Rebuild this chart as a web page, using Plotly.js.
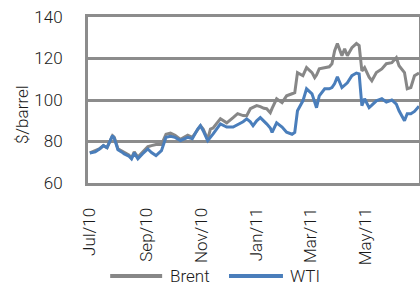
<!DOCTYPE html>
<html>
<head>
<meta charset="utf-8">
<script src="https://cdn.plot.ly/plotly-3.0.1.min.js"></script>
<style>html,body{margin:0;padding:0;background:#fff;}#chart{width:420px;height:284px;}</style>
</head>
<body>
<div id="chart"></div>
<script>
const dates = [
"2010-07-01","2010-07-07","2010-07-12","2010-07-16","2010-07-20","2010-07-26","2010-07-28",
"2010-08-01","2010-08-05","2010-08-08","2010-08-13","2010-08-16","2010-08-19","2010-08-23",
"2010-08-28","2010-09-03","2010-09-07","2010-09-12","2010-09-18","2010-09-23","2010-09-28",
"2010-10-03","2010-10-09","2010-10-17","2010-10-22","2010-10-28","2010-10-31","2010-11-03",
"2010-11-08","2010-11-11","2010-11-14","2010-11-22","2010-11-29","2010-12-06","2010-12-11",
"2010-12-17","2010-12-21","2010-12-25","2010-12-28","2011-01-01","2011-01-05","2011-01-09",
"2011-01-12","2011-01-16","2011-01-18","2011-01-23","2011-01-29","2011-02-03","2011-02-09",
"2011-02-12","2011-02-15","2011-02-21","2011-02-25","2011-03-03","2011-03-06","2011-03-08",
"2011-03-11","2011-03-17","2011-03-22","2011-03-25","2011-03-28","2011-03-31","2011-04-05",
"2011-04-08","2011-04-11","2011-04-16","2011-04-21","2011-04-24","2011-04-27","2011-04-30",
"2011-05-05","2011-05-08","2011-05-13","2011-05-19","2011-05-24","2011-05-30","2011-06-04",
"2011-06-07","2011-06-13","2011-06-16","2011-06-20","2011-06-24","2011-06-29"
];
const wti = [
74.5,75,76.5,78,77,82.8,81.5,
76,75,74,73,71.6,74.5,71.7,
74,76.4,74.7,73.2,75.6,82,82.5,
82,80.5,82,81.3,86,87.6,85.2,
80.4,82,83.7,88.5,87,87,88,
89.5,90.9,89.5,87.6,90,91.5,90,
88.5,86.5,84.4,89,87,84.5,83.5,
84.4,94.8,99.6,105.4,103,98.5,96.3,
102,105.4,105.4,106,107.9,111.2,106,
107,108.3,111.7,113,112.6,97.3,100.6,
96.3,97.5,99.6,100.6,99,100,98,
94.8,90,93.4,93.4,94.5,97
];
const brent = [
74.5,75.5,76.5,78,77,82.8,82,
76.5,75.5,74.5,73.5,72,75,72.5,
75,77.5,78,78.5,78.5,83.5,84,
83,81,83,82,86,87.6,86,
81,86,86.5,91,89,91.5,93.4,
92.5,92.4,95.8,96.5,97.3,96.8,96,
95.8,93.9,96,100.6,98.7,102,103,
103.5,113.2,111.7,115.6,113.2,110.8,112,
115,115.5,116,117.5,123.8,127.2,121.3,
124.7,121.3,125.2,127.2,126.2,114,115.6,
111,109.3,113.2,115,117.5,118,120.4,
116.5,113.2,105.4,106,111.7,113
];
const seriesNames = ["Brent","WTI"];
const seriesColors = ["#878787","#4a7ebb"];
const yTitle = "$/barrel";

const FONT = {family:"Roboto, 'Liberation Sans', Arial, sans-serif", size:17, color:"#1a1a1a", weight:300};
const GRAY = "#8c8c8c";

const traces = [
  {x:dates, y:brent, name:seriesNames[0], type:"scatter", mode:"lines",
   line:{color:seriesColors[0], width:3}},
  {x:dates, y:wti, name:seriesNames[1], type:"scatter", mode:"lines",
   line:{color:seriesColors[1], width:3}}
];

// custom legend (long sample lines as in the reference), placed in paper coordinates
const legY = -0.56;
const legItems = [{x0:0.067, x1:0.224, tx:0.242}, {x0:0.426, x1:0.589, tx:0.604}];
const shapes = legItems.map((it,i)=>({type:"line", xref:"paper", yref:"paper",
  x0:it.x0, x1:it.x1, y0:legY, y1:legY, line:{color:seriesColors[i], width:4}}));
const annotations = legItems.map((it,i)=>({xref:"paper", yref:"paper", x:it.tx, y:legY,
  xanchor:"left", yanchor:"middle", text:seriesNames[i], showarrow:false, font:FONT}));
annotations.push({xref:"paper", yref:"paper", x:-0.199, y:0.41, xanchor:"center", yanchor:"middle",
  text:yTitle, textangle:-90, showarrow:false, font:FONT});

const layout = {
  width:420, height:284,
  margin:{l:88, r:1, t:17, b:101, autoexpand:false},
  paper_bgcolor:"#fff", plot_bgcolor:"#fff",
  font:FONT,
  showlegend:false,
  shapes:shapes,
  annotations:annotations,
  xaxis:{type:"date", range:["2010-06-29","2011-06-29"],
         tick0:"2010-07-01", dtick:"M2", tickformat:"%b/%y", tickangle:-90,
         showgrid:false, zeroline:false, showline:true, mirror:true, automargin:false,
         linecolor:GRAY, linewidth:3, ticks:"outside", ticklen:15, tickcolor:"rgba(0,0,0,0)",
         tickfont:FONT},
  yaxis:{range:[60,140], dtick:20, tick0:60, automargin:false,
         showgrid:true, gridcolor:GRAY, gridwidth:3, zeroline:false,
         showline:true, mirror:true, linecolor:GRAY, linewidth:3, ticks:"",
         ticklabelstandoff:19, tickfont:FONT}
};

Plotly.newPlot("chart", traces, layout, {staticPlot:true, displayModeBar:false});
</script>
</body>
</html>
